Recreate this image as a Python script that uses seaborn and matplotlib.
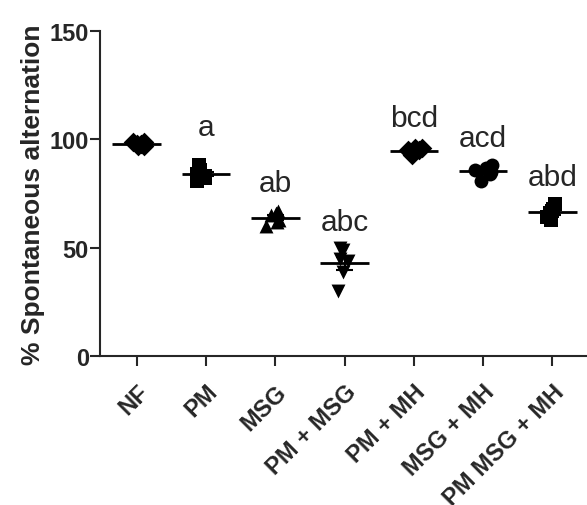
import pandas as pd
import numpy as np
import matplotlib.pyplot as plt
import seaborn as sns

groups = ['NF', 'PM', 'MSG', 'PM + MSG', 'PM + MH', 'MSG + MH', 'PM MSG + MH']
nf = [97, 98, 99, 98, 97, 99]
pm = [88, 86, 84, 82, 81, 83]
msg = [67, 65, 63, 62, 60, 66]
pm_msg = [50, 49, 45, 44, 39, 30]
pm_mh = [96, 95, 94, 95, 93, 96]
msg_mh = [88, 87, 85, 84, 81, 86]
pm_msg_mh = [70, 68, 66, 64, 63, 67]
letters = ['', 'a', 'ab', 'abc', 'bcd', 'acd', 'abd']
letter_y = [0, 102, 76, 58, 106, 97, 79]

values = [nf, pm, msg, pm_msg, pm_mh, msg_mh, pm_msg_mh]
markers = ['D', 's', '^', 'v', 'D', 'o', 's']

data = pd.DataFrame({'group': np.repeat(groups, [len(v) for v in values]),
                     'alt': np.concatenate(values)})

np.random.seed(3)
sns.set_style('ticks')
plt.rcParams['font.family'] = ['Liberation Sans', 'DejaVu Sans']

fig = plt.figure(figsize=(5.87, 5.06), dpi=100)
ax = fig.add_axes([100/587, 149/506, 487/587, 325/506])

for g, m in zip(groups, markers):
    sub = data[data['group'] == g]
    sns.stripplot(data=sub, x='group', y='alt', order=groups, marker=m, size=10,
                  color='black', jitter=0.14, ax=ax, zorder=3)

stats = data.groupby('group', sort=False)['alt'].agg(['mean', 'sem']).reindex(groups)
for i, (g, row) in enumerate(stats.iterrows()):
    ax.hlines(row['mean'], i - 0.35, i + 0.35, color='black', lw=2, zorder=4)
    ax.vlines(i, row['mean'] - row['sem'], row['mean'] + row['sem'], color='black', lw=1.5, zorder=4)
    for s in (-1, 1):
        ax.hlines(row['mean'] + s * row['sem'], i - 0.12, i + 0.12, color='black', lw=1.5, zorder=4)
    if letters[i]:
        ax.text(i, letter_y[i], letters[i], ha='center', va='baseline', fontsize=21.5)

ax.set_ylim(0, 150)
ax.set_xlim(-0.53, 6.5)
ax.set_yticks([0, 50, 100, 150])
ax.set_xlabel('')
ax.set_ylabel('% Spontaneous alternation', fontsize=19, fontweight='bold', labelpad=3)
ax.tick_params(axis='both', length=7, width=1.5, labelsize=17)
ax.tick_params(axis='y', pad=1)
ax.tick_params(axis='x', pad=10)
plt.setp(ax.get_yticklabels(), fontweight='bold')
for lab in ax.get_xticklabels():
    lab.set_fontweight('bold')
    lab.set_rotation(45)
    lab.set_ha('right')
    lab.set_va('top')
    lab.set_rotation_mode('anchor')
for sp in ['left', 'bottom']:
    ax.spines[sp].set_linewidth(1.5)
sns.despine(ax=ax)

fig.savefig('out.png', dpi=100)
